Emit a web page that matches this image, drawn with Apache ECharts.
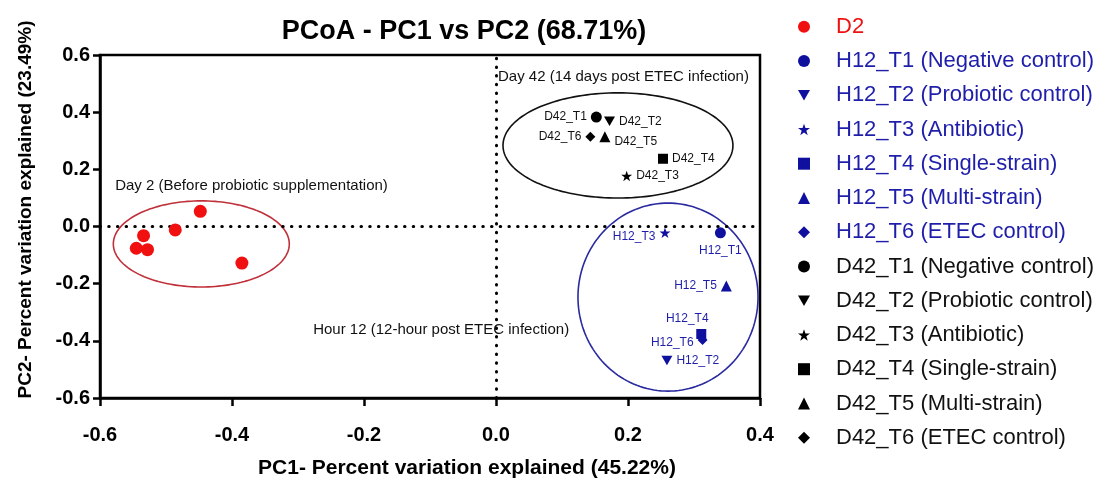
<!DOCTYPE html>
<html><head><meta charset="utf-8">
<script src="https://cdn.jsdelivr.net/npm/echarts@6/dist/echarts.min.js"></script>
<style>html,body{margin:0;padding:0;background:#fff}#c{width:1111px;height:484px}</style>
</head><body><div id="c"></div>
<script>
// ---- data ----
const d2X = [-0.448, -0.486, -0.534, -0.545, -0.528, -0.385];
const d2Y = [0.053, -0.012, -0.032, -0.076, -0.081, -0.128];
const treatments = ['T1', 'T2', 'T3', 'T4', 'T5', 'T6'];
const treatmentNames = ['Negative control', 'Probiotic control', 'Antibiotic', 'Single-strain', 'Multi-strain', 'ETEC control'];
const h12X = [0.340, 0.259, 0.256, 0.311, 0.349, 0.313];
const h12Y = [-0.022, -0.469, -0.022, -0.376, -0.208, -0.397];
const d42X = [0.152, 0.172, 0.198, 0.253, 0.165, 0.143];
const d42Y = [0.383, 0.368, 0.177, 0.237, 0.314, 0.314];
const ellipseCX = [-0.4465, 0.1848, 0.2606];
const ellipseCY = [-0.061, 0.2835, -0.247];
const ellipseRX = [0.1333, 0.1742, 0.1364];
const ellipseRY = [0.1506, 0.184, 0.329];
const annotationText = ['Day 2 (Before probiotic supplementation)', 'Day 42 (14 days post ETEC infection)', 'Hour 12 (12-hour post ETEC infection)'];
const annotationX = [-0.577, 0.003, -0.277];
const annotationY = [0.142, 0.5235, -0.362];
const titleText = 'PCoA - PC1 vs PC2 (68.71%)';
const xTitle = 'PC1- Percent variation explained (45.22%)';
const yTitle = 'PC2- Percent variation explained (23.49%)';

// ---- styles ----
const FONT = '"Liberation Sans", Arial, Helvetica, sans-serif';
const RED = '#f01010', BLUE = '#10109e', BLUE_TXT = '#1e1eaa', BLACK = '#000';
const ellipseColors = ['#c0303a', '#111', '#2a2aa0'];
const STAR = 'path://M50,0 L61.8,35.5 L99,35.5 L69,57.5 L80.5,93 L50,71 L19.5,93 L31,57.5 L1,35.5 L38.2,35.5 Z';
const TRI_DOWN = 'path://M0,0 L100,0 L50,87 Z';
const symbols = ['circle', TRI_DOWN, STAR, 'rect', 'triangle', 'diamond'];
const sizes = [11, 11, 11, 10, 11, 10];
const h12Labels = [
  {position: 'bottom', offset: [0, 2]},
  {position: 'right'},
  {position: 'left', offset: [0, 4]},
  {position: 'top', offset: [-14, 0]},
  {position: 'left'},
  {position: 'left', offset: [0, 3]}
];
const d42Labels = [
  {position: 'left'},
  {position: 'right'},
  {position: 'right'},
  {position: 'right'},
  {position: 'right', offset: [0, 5]},
  {position: 'left'}
];

const series = [];
const legendData = [];
series.push({
  name: 'D2', type: 'scatter', symbol: 'circle', symbolSize: 13, z: 5,
  itemStyle: {color: RED, opacity: 1},
  data: d2X.map((x, i) => [x, d2Y[i]]),
  markLine: {
    silent: true, symbol: 'none', animation: false,
    label: {show: false},
    lineStyle: {color: '#000', width: 3, type: [0.5, 8.2], cap: 'round'},
    data: [{xAxis: 0}, {yAxis: 0}]
  }
});
legendData.push({name: 'D2', textStyle: {color: RED}});

function addGroup(prefix, xs, ys, color, txtColor, labels) {
  treatments.forEach((t, i) => {
    const name = prefix + '_' + t + ' (' + treatmentNames[i] + ')';
    const short = prefix + '_' + t;
    series.push({
      name: name, type: 'scatter', z: 5,
      symbol: symbols[i], symbolSize: sizes[i], symbolKeepAspect: true,
      itemStyle: {color: color, opacity: 1},
      label: Object.assign({show: true, formatter: short, color: txtColor, fontSize: 12, fontFamily: FONT, distance: 4}, labels[i]),
      data: [[xs[i], ys[i]]]
    });
    legendData.push({name: name, textStyle: {color: txtColor}});
  });
}
addGroup('H12', h12X, h12Y, BLUE, BLUE_TXT, h12Labels);
addGroup('D42', d42X, d42Y, BLACK, '#111', d42Labels);

series.push({
  type: 'custom', name: 'ellipses', silent: true, z: 2, clip: false,
  data: ellipseCX.map((cx, i) => [cx, ellipseCY[i], ellipseRX[i], ellipseRY[i], i]),
  encode: {x: 0, y: 1},
  renderItem: function (params, api) {
    const cx = api.value(0), cy = api.value(1), rx = api.value(2), ry = api.value(3), k = api.value(4);
    const pts = [];
    for (let j = 0; j < 160; j++) {
      const t = j / 160 * 2 * Math.PI;
      pts.push(api.coord([cx + rx * Math.cos(t), cy + ry * Math.sin(t)]));
    }
    return {type: 'polygon', shape: {points: pts}, style: {fill: 'none', stroke: ellipseColors[k], lineWidth: 1.6}};
  }
});
series.push({
  type: 'custom', name: 'annotations', silent: true, z: 3, clip: false,
  data: annotationX.map((x, i) => [x, annotationY[i], i]),
  encode: {x: 0, y: 1},
  renderItem: function (params, api) {
    const p = api.coord([api.value(0), api.value(1)]);
    return {type: 'text', x: p[0], y: p[1],
      style: {text: annotationText[api.value(2)], fill: '#111', fontSize: 15, fontFamily: FONT, align: 'left', verticalAlign: 'middle'}};
  }
});

const chart = echarts.init(document.getElementById('c'), null, {renderer: 'canvas'});
chart.setOption({
  animation: false,
  backgroundColor: '#fff',
  title: {
    text: titleText, left: 459, top: 12, textAlign: 'center',
    textStyle: {fontSize: 27, fontWeight: 'bold', color: '#000', fontFamily: FONT, lineHeight: 30}
  },
  legend: {
    orient: 'vertical', left: 793, top: 10.7, itemWidth: 12, itemHeight: 12, itemGap: 12.25,
    selectedMode: false, symbolKeepAspect: true,
    textStyle: {fontSize: 22, lineHeight: 22, fontFamily: FONT, padding: [0, 0, 0, 21]},
    data: legendData
  },
  grid: {left: 100, top: 55, right: 351, bottom: 84, show: true, borderColor: '#000', borderWidth: 2.5, backgroundColor: 'transparent'},
  xAxis: {
    type: 'value', min: -0.6, max: 0.4, interval: 0.2,
    name: xTitle, nameLocation: 'middle', nameGap: 60,
    nameTextStyle: {fontSize: 21, fontWeight: 'bold', color: '#000', fontFamily: FONT, padding: [0, 0, 0, 74]},
    axisLine: {show: true, onZero: false, lineStyle: {color: '#000', width: 2.5}},
    axisTick: {show: true, length: 8, lineStyle: {color: '#000', width: 2.5}},
    axisLabel: {fontSize: 20, fontWeight: 'bold', color: '#000', fontFamily: FONT, margin: 27, formatter: v => v.toFixed(1)},
    splitLine: {show: false}
  },
  yAxis: {
    type: 'value', min: -0.6, max: 0.6, interval: 0.2,
    name: yTitle, nameLocation: 'middle', nameGap: 65, nameRotate: 90,
    nameTextStyle: {fontSize: 19, fontWeight: 'bold', color: '#000', fontFamily: FONT, padding: [0, 0, 0, 34]},
    axisLine: {show: true, onZero: false, lineStyle: {color: '#000', width: 2.5}},
    axisTick: {show: true, length: 7, lineStyle: {color: '#000', width: 2.5}},
    axisLabel: {fontSize: 20, fontWeight: 'bold', color: '#000', fontFamily: FONT, margin: 10, formatter: v => v.toFixed(1)},
    splitLine: {show: false}
  },
  series: series
});
</script>
</body></html>
